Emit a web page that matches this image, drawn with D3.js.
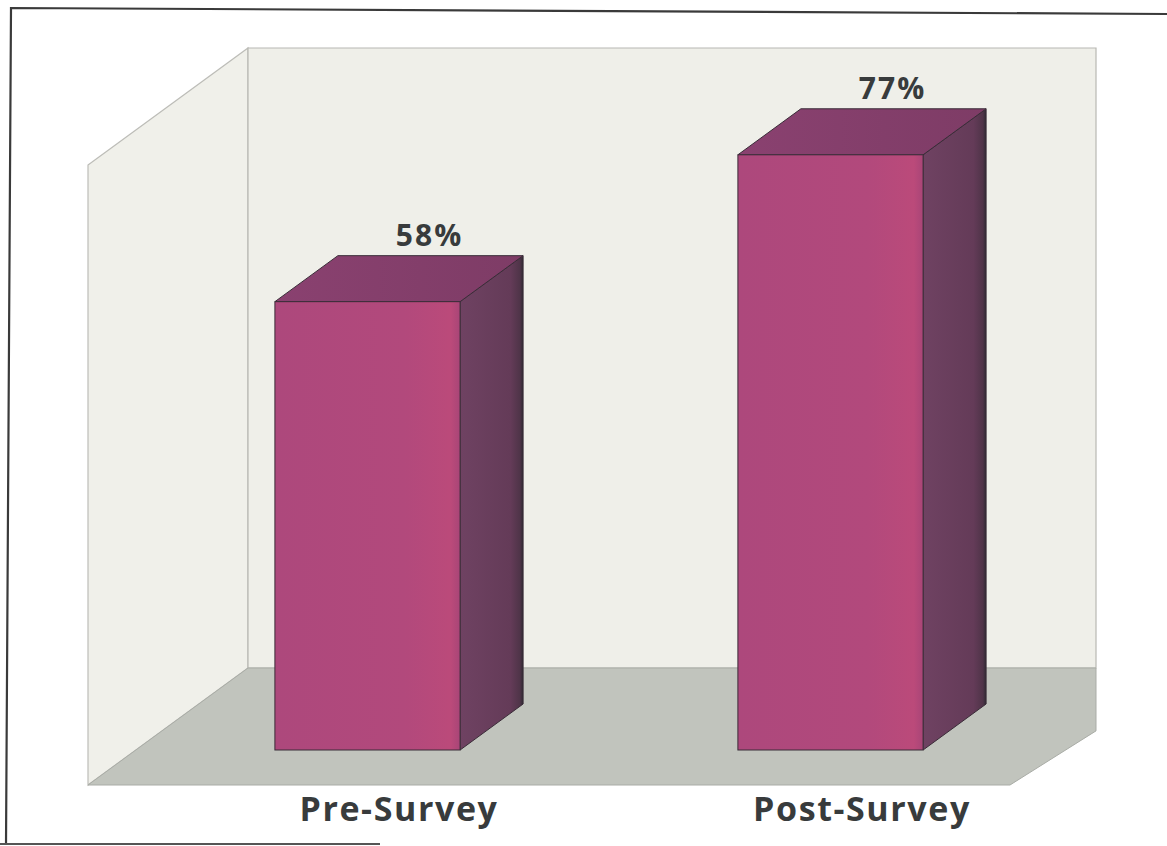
<!DOCTYPE html>
<html>
<head>
<meta charset="utf-8">
<script src="https://cdn.jsdelivr.net/npm/d3@7"></script>
<style>
  html, body { margin: 0; padding: 0; background: #ffffff; }
  svg { display: block; }
  .lbl { font-family: "Open Sans", "Lato", sans-serif; font-weight: 700; fill: #383b3c; }
</style>
</head>
<body>
<svg id="chart" width="1167" height="846"></svg>
<script>
// Survey results
const categories = ["Pre-Survey", "Post-Survey"];
const values = [58, 77];
const valueLabels = ["58%", "77%"];

const svg = d3.select("#chart");

// Box geometry (the 3D room: back wall, left wall, floor)
const wallLeft = 248, wallRight = 1096, wallTop = 48, floorBack = 668;
const roomDx = 160, roomDy = 117;      // depth offset of the room
const barDx = 63, barDy = 46;          // depth offset of each bar
const baseY = 750;                     // front base line of the bars

const x = d3.scaleBand().domain(categories).range([136, 1062]).paddingInner(0.6).paddingOuter(0.3);
const y = d3.scaleLinear().domain([0, 100]).range([baseY, baseY - 773]);

const defs = svg.append("defs");
function grad(id, stops) {
  const g = defs.append("linearGradient").attr("id", id).attr("x1", 0).attr("x2", 1).attr("y1", 0).attr("y2", 0);
  stops.forEach(([o, c]) => g.append("stop").attr("offset", o).attr("stop-color", c));
}
grad("gFront", [[0, "#ad487c"], [0.7, "#b2497c"], [0.95, "#bb4a7a"], [1, "#a84577"]]);
grad("gSide", [[0, "#6f4262"], [0.8, "#643b58"], [0.95, "#4f3448"], [1, "#2f2a33"]]);
grad("gTop", [[0, "#8a4170"], [1, "#7e3c66"]]);

// Outer frame (slightly skewed scan edges)
svg.append("path")
  .attr("d", "M6,845 L11,8 L1167,14")
  .attr("fill", "none").attr("stroke", "#3a3a3a").attr("stroke-width", 2.2);
svg.append("path")
  .attr("d", "M0,844 L380,844")
  .attr("fill", "none").attr("stroke", "#555").attr("stroke-width", 2);

const line = d3.line();

// Left wall
svg.append("path")
  .attr("d", line([[wallLeft - roomDx, wallTop + roomDy], [wallLeft, wallTop], [wallLeft, floorBack], [wallLeft - roomDx, floorBack + roomDy]]) + "Z")
  .attr("fill", "#f0f0ea").attr("stroke", "#bdbdb8").attr("stroke-width", 1.2);

// Back wall
svg.append("path")
  .attr("d", line([[wallLeft, wallTop], [wallRight, wallTop], [wallRight, floorBack], [wallLeft, floorBack]]) + "Z")
  .attr("fill", "#efefe9").attr("stroke", "#b8b8b3").attr("stroke-width", 1.2);

// Floor (clipped at the right edge of the back wall)
const floorRightFrontX = wallRight - 86;
svg.append("path")
  .attr("d", line([
    [wallLeft - roomDx, floorBack + roomDy],
    [wallLeft, floorBack],
    [wallRight, floorBack],
    [wallRight, floorBack + roomDy * (86 / roomDx)],
    [floorRightFrontX, floorBack + roomDy]
  ]) + "Z")
  .attr("fill", "#c1c4bd").attr("stroke", "#a9aca6").attr("stroke-width", 1);

// Bars
const bars = svg.append("g");
categories.forEach((c, i) => {
  const x0 = x(c), x1 = x(c) + x.bandwidth();
  const yt = y(values[i]), yb = y(0);
  const g = bars.append("g");
  // side face
  g.append("path")
    .attr("d", line([[x1, yt], [x1 + barDx, yt - barDy], [x1 + barDx, yb - barDy], [x1, yb]]) + "Z")
    .attr("fill", "url(#gSide)").attr("stroke", "#3a2c38").attr("stroke-width", 1);
  // top face
  g.append("path")
    .attr("d", line([[x0, yt], [x0 + barDx, yt - barDy], [x1 + barDx, yt - barDy], [x1, yt]]) + "Z")
    .attr("fill", "url(#gTop)").attr("stroke", "#3a2c38").attr("stroke-width", 1);
  // front face
  g.append("rect")
    .attr("x", x0).attr("y", yt).attr("width", x1 - x0).attr("height", yb - yt)
    .attr("fill", "url(#gFront)").attr("stroke", "#3a2c38").attr("stroke-width", 1);
  // value label
  svg.append("text").attr("class", "lbl")
    .attr("x", (x0 + x1) / 2 + barDx - 1).attr("y", yt - barDy - 10)
    .attr("text-anchor", "middle").attr("font-size", 30).attr("letter-spacing", 2)
    .text(valueLabels[i]);
  // category label
  svg.append("text").attr("class", "lbl")
    .attr("x", (x0 + x1) / 2 + barDx / 2).attr("y", 821)
    .attr("text-anchor", "middle").attr("font-size", 34).attr("letter-spacing", 1.6)
    .text(c);
});
</script>
</body>
</html>
